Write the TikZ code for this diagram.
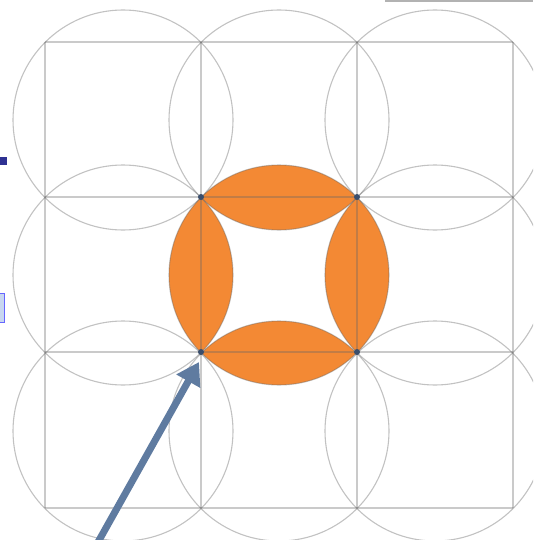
\documentclass[tikz,border=0pt]{standalone}
\usetikzlibrary{arrows.meta}
\definecolor{lensorange}{RGB}{243,137,52}
\definecolor{arrowblue}{RGB}{95,123,160}
\definecolor{dotblue}{RGB}{58,78,108}
\definecolor{darkblue}{RGB}{46,49,146}
\definecolor{paleblue}{RGB}{200,215,240}
\tikzset{
  gridline/.style={draw=black!60, draw opacity=0.35, line width=1.6pt},
  circline/.style={draw=black!60, draw opacity=0.4, line width=1.1pt},
  lens/.style={fill=lensorange},
  cornerdot/.style={circle, fill=dotblue, inner sep=0pt, minimum size=6pt},
  pointer/.style={draw=arrowblue, line width=7pt, -{Triangle[width=26pt,length=22pt]}}
}
\begin{document}
\begin{tikzpicture}[x=1pt,y=-1pt]
\useasboundingbox (0,0) rectangle (533,540);
\clip (0,0) rectangle (533,540);
% orange lenses: central circle intersected with its four neighbours
\begin{scope}
  \clip (279,275) circle (110);
  \foreach \c in {(279,120),(279,431),(123,275),(435,275)}
    \fill[lens] \c circle (110);
\end{scope}
% grid of squares
\foreach \x in {45,201,357,513}
  \draw[gridline] (\x,42) -- (\x,508);
\foreach \y in {42,197,352,508}
  \draw[gridline] (45,\y) -- (513,\y);
% circumscribed circles
\foreach \x in {123,279,435}
  \foreach \y in {120,275,431}
    \draw[circline] (\x,\y) circle (110);
% corner dots of the central square
\node[cornerdot] (d1) at (201,197) {};
\node[cornerdot] (d2) at (357,197) {};
\node[cornerdot] (d3) at (357,352) {};
\node[cornerdot] (d4) at (201,352) {};
% arrow
\coordinate (tail) at (88,560);
\draw[pointer] (tail) -- ([shift={(-2,10)}]d4.center);
% edge fragments
\fill[darkblue] (0,157) rectangle (7,165);
\draw[blue!60, fill=paleblue, line width=0.6pt] (-2,293) rectangle (4,322);
\draw[black!30, line width=1.5pt] (385,1) -- (533,1);
\end{tikzpicture}
\end{document}
